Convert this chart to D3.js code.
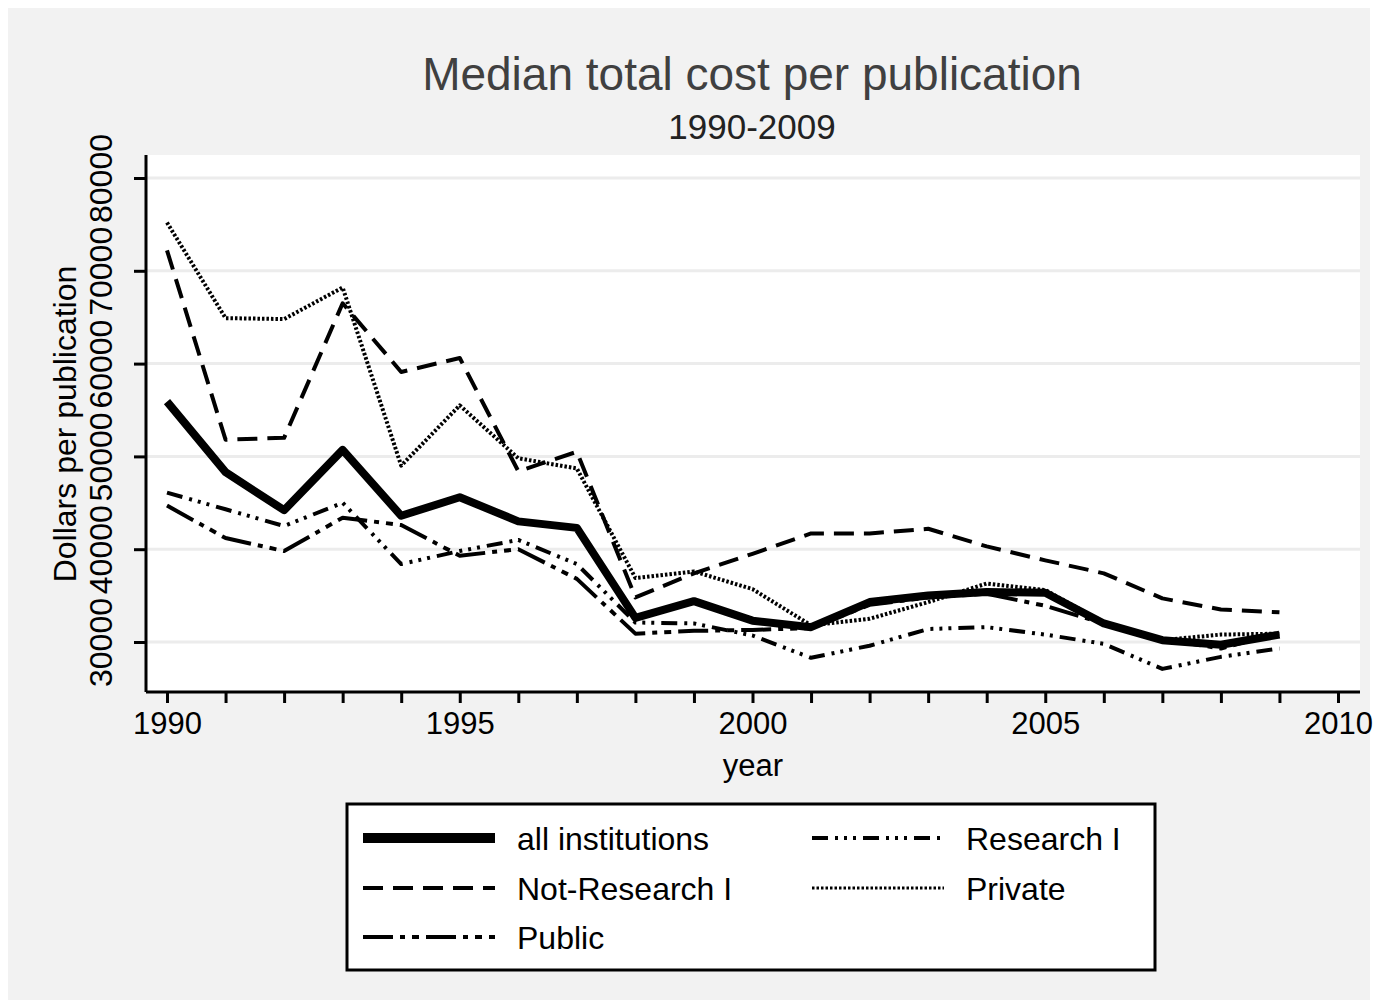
<!DOCTYPE html>
<html>
<head>
<meta charset="utf-8">
<script src="https://cdn.jsdelivr.net/npm/d3@7"></script>
<style>
  body { margin: 0; background: #fff; }
  svg { display: block; font-family: "Liberation Sans", Arial, sans-serif; }
</style>
</head>
<body>
<svg id="chart" width="1378" height="1008"></svg>
<script>
const years = d3.range(1990, 2010)
const allInst    = [55900, 48300, 44200, 50700, 43600, 45600, 43000, 42300, 32600, 34400, 32300, 31600, 34300, 35000, 35400, 35300, 32000, 30200, 29700, 30800]
const notResI    = [72200, 51800, 52000, 66500, 59100, 60600, 48400, 50500, 34800, 37400, 39500, 41700, 41700, 42200, 40300, 38800, 37400, 34700, 33500, 33200]
const publicInst = [44700, 41200, 39800, 43400, 42600, 39300, 40000, 36800, 30900, 31200, 31300, 31500, 34000, 34800, 35200, 33900, 32000, 30300, 29300, 31000]
const researchI  = [46100, 44300, 42500, 45000, 38400, 39800, 41000, 38400, 32100, 32000, 30700, 28300, 29600, 31400, 31600, 30800, 29800, 27100, 28400, 29300]
const privateInst = [75200, 64900, 64800, 68200, 49000, 55500, 49800, 48700, 36900, 37600, 35700, 31800, 32500, 34300, 36300, 35600, 32100, 30200, 30800, 30900]
const yTicks = [30000, 40000, 50000, 60000, 70000, 80000]
const xTicks = [1990, 1995, 2000, 2005, 2010]

const series = [
    {name: "all institutions", values: allInst, width: 8, legendWidth: 10, dash: null},
    {name: "Not-Research I", values: notResI, width: 4, legendWidth: 4, dash: "20,10"},
    {name: "Public", values: publicInst, width: 4, legendWidth: 4, dash: "30,7,5,7,7,7"},
    {name: "Research I", values: researchI, width: 4, legendWidth: 4, dash: "16,7,3,6,3,6,3,7"},
    {name: "Private", values: privateInst, width: 4, legendWidth: 3, dash: "2.5,2"}
]

const svg = d3.select("#chart")
const plot = {left: 146, right: 1360, top: 155, bottom: 692}

// backgrounds
svg.append("rect").attr("x", 8).attr("y", 8).attr("width", 1362).attr("height", 992).attr("fill", "#f2f2f2")
svg.append("rect").attr("x", plot.left).attr("y", plot.top)
    .attr("width", plot.right - plot.left).attr("height", plot.bottom - plot.top).attr("fill", "#fff")

const x = d3.scaleLinear().domain([1990, 2010]).range([167, 1338])
const y = d3.scaleLinear().domain([30000, 80000]).range([642, 178])

// gridlines
svg.append("g").selectAll("line").data(yTicks).join("line")
    .attr("x1", plot.left).attr("x2", plot.right)
    .attr("y1", d => y(d)).attr("y2", d => y(d))
    .attr("stroke", "#ececec").attr("stroke-width", 3)

// series
const line = d3.line().x((d, i) => x(years[i])).y(d => y(d))
const drawOrder = [series[4], series[1], series[3], series[2], series[0]]
svg.append("g").selectAll("path").data(drawOrder).join("path")
    .attr("d", d => line(d.values))
    .attr("fill", "none").attr("stroke", "#000")
    .attr("stroke-width", d => d.width)
    .attr("stroke-dasharray", d => d.dash)
    .attr("stroke-linejoin", "round")

// axes
const yAxis = svg.append("g")
    .attr("transform", `translate(${plot.left}, 0)`)
    .call(d3.axisLeft(y).tickValues(yTicks).tickSize(12).tickSizeOuter(0).tickFormat(d3.format("d")))
yAxis.select(".domain").attr("d", `M0,${plot.top}V${plot.bottom}`).attr("stroke-width", 3)
yAxis.selectAll(".tick line").attr("stroke-width", 3)
yAxis.selectAll(".tick text")
    .attr("transform", "rotate(-90)").attr("x", 0).attr("y", -34)
    .attr("text-anchor", "middle").attr("dy", 0)
    .attr("font-size", 32).attr("font-family", "Liberation Sans, Arial, sans-serif").attr("fill", "#000")

const xAxis = svg.append("g")
    .attr("transform", `translate(0, ${plot.bottom})`)
    .call(d3.axisBottom(x).tickValues(d3.range(1990, 2011)).tickSize(11).tickSizeOuter(0)
        .tickFormat(d => xTicks.includes(d) ? d : ""))
xAxis.select(".domain").attr("d", `M${plot.left},0H${plot.right}`).attr("stroke-width", 3)
xAxis.selectAll(".tick line").attr("stroke-width", 3)
xAxis.selectAll(".tick text").attr("y", 42).attr("dy", 0)
    .attr("font-size", 31).attr("font-family", "Liberation Sans, Arial, sans-serif").attr("fill", "#000")

// titles
svg.append("text").attr("x", 752).attr("y", 90).attr("text-anchor", "middle")
    .attr("font-size", 46).attr("fill", "#404040").text("Median total cost per publication")
svg.append("text").attr("x", 752).attr("y", 139).attr("text-anchor", "middle")
    .attr("font-size", 35).attr("fill", "#222").text("1990-2009")
svg.append("text").attr("x", 753).attr("y", 776).attr("text-anchor", "middle")
    .attr("font-size", 31).attr("fill", "#000").text("year")
svg.append("text").attr("transform", "translate(76, 424) rotate(-90)").attr("text-anchor", "middle")
    .attr("font-size", 32).attr("fill", "#000").text("Dollars per publication")

// legend
const legend = svg.append("g")
legend.append("rect").attr("x", 347).attr("y", 804).attr("width", 808).attr("height", 166)
    .attr("fill", "#fff").attr("stroke", "#000").attr("stroke-width", 3)
const legendPos = [
    {s: series[0], x: 363, y: 838},
    {s: series[1], x: 363, y: 888},
    {s: series[2], x: 363, y: 937},
    {s: series[3], x: 812, y: 838},
    {s: series[4], x: 812, y: 888}
]
const items = legend.selectAll("g.item").data(legendPos).join("g").attr("class", "item")
items.append("line")
    .attr("x1", d => d.x).attr("x2", d => d.x + 132)
    .attr("y1", d => d.y).attr("y2", d => d.y)
    .attr("stroke", "#000").attr("stroke-width", d => d.s.legendWidth)
    .attr("stroke-dasharray", d => d.s.dash)
items.append("text").attr("x", d => d.x + 154).attr("y", d => d.y + 12)
    .attr("font-size", 32).attr("fill", "#000").text(d => d.s.name)
</script>
</body>
</html>
